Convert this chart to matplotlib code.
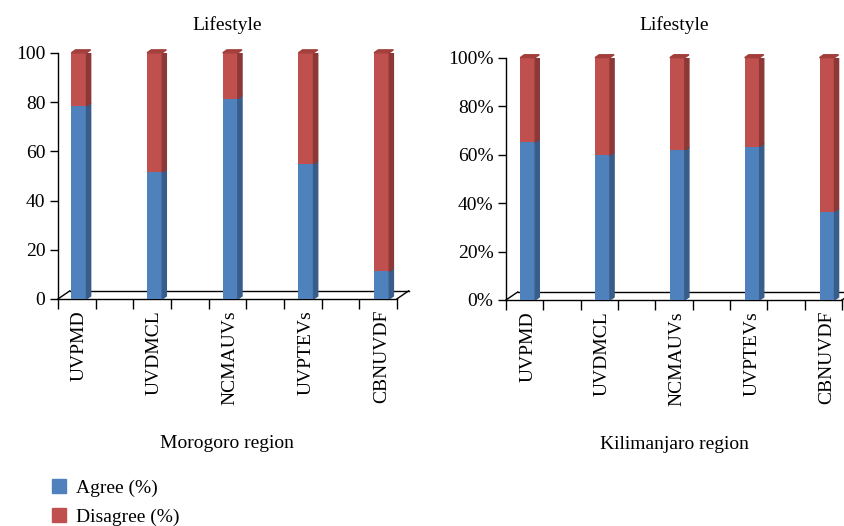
import numpy as np
import matplotlib.pyplot as plt
from matplotlib.patches import Polygon, Patch
from matplotlib.lines import Line2D
from matplotlib.ticker import PercentFormatter

plt.rcParams['font.family'] = ['Liberation Serif', 'DejaVu Serif']

categories = ["UVPMD", "UVDMCL", "NCMAUVs", "UVPTEVs", "CBNUVDF"]
morogoro_agree = [78.4, 51.5, 81.4, 54.8, 11.2]
morogoro_disagree = [100 - v for v in morogoro_agree]
kilimanjaro_agree = [0.651, 0.597, 0.618, 0.633, 0.365]
kilimanjaro_disagree = [1 - v for v in kilimanjaro_agree]

blue, blue_side = "#4F81BD", "#385D8A"
red, red_side, red_top = "#C0504D", "#8C3836", "#A23F3C"
fs = 14


def draw_panel(ax, agree, disagree, ymax, xlim, title, xlabel):
    x = np.arange(len(categories))
    w = 0.2
    dx = 0.055
    dy = ymax * 0.012
    ax.bar(x, agree, w, color=blue, zorder=3)
    ax.bar(x, disagree, w, bottom=agree, color=red, zorder=3)
    for xi, a, d in zip(x, agree, disagree):
        r = xi + w / 2
        ax.add_patch(Polygon([(r, 0), (r + dx, dy), (r + dx, a + dy), (r, a)],
                             color=blue_side, zorder=3))
        ax.add_patch(Polygon([(r, a), (r + dx, a + dy), (r + dx, a + d + dy), (r, a + d)],
                             color=red_side, zorder=3))
        ax.add_patch(Polygon([(r - w, a + d), (r - w + dx, a + d + dy),
                              (r + dx, a + d + dy), (r, a + d)],
                             color=red_top, zorder=3, clip_on=False))
    ax.set_xlim(*xlim)
    ax.set_ylim(0, ymax)
    # floor of the 3d box
    fx, fy = 0.035, 0.033
    for pts in ([(0, 0), (fx, fy)], [(1, 0), (1 + fx, fy)], [(fx, fy), (1 + fx, fy)]):
        xs, ys = zip(*pts)
        ax.add_line(Line2D(xs, ys, transform=ax.transAxes, color="black",
                           lw=1.0, clip_on=False, zorder=2))
    ax.spines[['top', 'right']].set_visible(False)
    ax.spines[['left', 'bottom']].set_linewidth(1.0)
    ax.set_xticks(x)
    ax.set_xticklabels(categories, rotation=90, fontsize=fs)
    ax.tick_params(axis='x', which='major', length=0, pad=8)
    ax.set_xticks(np.linspace(xlim[0], xlim[1], 10), minor=True)
    ax.tick_params(axis='x', which='minor', length=7, width=1.0)
    ax.tick_params(axis='y', length=6, width=1.0, labelsize=fs, pad=3)
    bb = ax.get_position()
    fig.text((bb.x0 + bb.x1) / 2, 1 - 25 / 526, title, fontsize=fs,
             ha='center', va='center')
    ax.set_xlabel(xlabel, fontsize=fs, labelpad=22)


fig = plt.figure(figsize=(8.45, 5.26), dpi=100)
ax1 = fig.add_axes([0.0686, 0.4316, 0.401, 0.468])
ax2 = fig.add_axes([0.5988, 0.4297, 0.3976, 0.4607])

draw_panel(ax1, morogoro_agree, morogoro_disagree, 100, (-0.277, 4.2),
           "Lifestyle", "Morogoro region")
ax1.set_yticks([0, 20, 40, 60, 80, 100])

draw_panel(ax2, kilimanjaro_agree, kilimanjaro_disagree, 1.0, (-0.29, 4.2),
           "Lifestyle", "Kilimanjaro region")
ax2.set_yticks([0, 0.2, 0.4, 0.6, 0.8, 1.0])
ax2.yaxis.set_major_formatter(PercentFormatter(1.0, decimals=0))

handles = [Patch(color=blue, label="Agree (%)"), Patch(color=red, label="Disagree (%)")]
fig.legend(handles=handles, loc="upper left", bbox_to_anchor=(0.061, 0.089),
           frameon=False, fontsize=fs, handlelength=0.75, handleheight=0.75,
           handletextpad=0.5, labelspacing=0.55, borderaxespad=0, borderpad=0)

fig.savefig("out.png", dpi=100)
